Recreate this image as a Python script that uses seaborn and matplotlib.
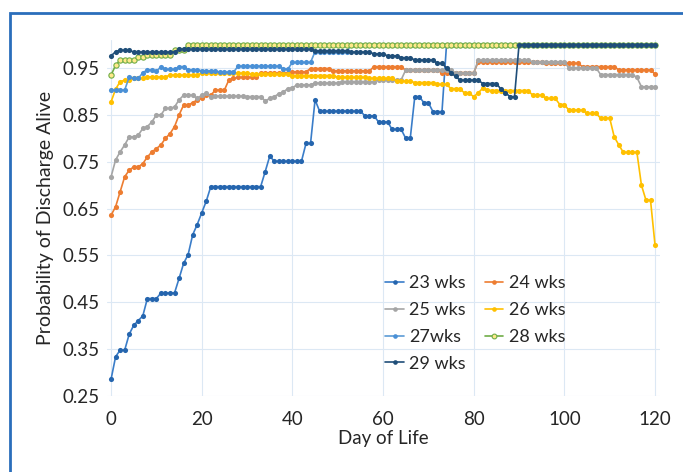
import pandas as pd
import matplotlib.pyplot as plt
from matplotlib.patches import Rectangle
import seaborn as sns

days = list(range(121))

wk23 = [0.286, 0.334, 0.348, 0.348, 0.382, 0.401, 0.411, 0.421, 0.458, 0.458, 0.458,
        0.470, 0.470, 0.470, 0.470, 0.501, 0.533, 0.552, 0.594, 0.616, 0.641, 0.666,
        0.697, 0.697, 0.697, 0.697, 0.697, 0.697, 0.697, 0.697, 0.697, 0.697, 0.697, 0.697,
        0.729, 0.762,
        0.751, 0.751, 0.751, 0.751, 0.751, 0.751, 0.751,
        0.789, 0.789, 0.882,
        0.858, 0.858, 0.858, 0.858, 0.858, 0.858, 0.858, 0.858, 0.858, 0.858,
        0.848, 0.848, 0.848, 0.835, 0.835, 0.835, 0.819, 0.819, 0.819,
        0.800, 0.800, 0.889, 0.889, 0.876, 0.876, 0.857, 0.857, 0.857,
        1.0, 1.0, 1.0, 1.0, 1.0, 1.0, 1.0, 1.0, 1.0, 1.0, 1.0, 1.0, 1.0, 1.0, 1.0, 1.0,
        1.0, 1.0, 1.0, 1.0, 1.0, 1.0, 1.0, 1.0, 1.0, 1.0, 1.0, 1.0, 1.0, 1.0, 1.0, 1.0,
        1.0, 1.0, 1.0, 1.0, 1.0, 1.0, 1.0, 1.0, 1.0, 1.0, 1.0, 1.0, 1.0, 1.0, 1.0]

wk24 = [0.636, 0.654, 0.686, 0.718, 0.732, 0.739, 0.739, 0.746, 0.760, 0.771, 0.778,
        0.786, 0.800, 0.810, 0.825, 0.850, 0.871, 0.871, 0.876, 0.882, 0.885, 0.892,
        0.892, 0.903, 0.903, 0.903, 0.925, 0.928,
        0.930, 0.930, 0.930, 0.930, 0.930,
        0.939, 0.939, 0.939, 0.939, 0.939, 0.939, 0.939,
        0.942, 0.942, 0.942, 0.942,
        0.949, 0.949, 0.949, 0.949, 0.949,
        0.944, 0.944, 0.944, 0.944, 0.944, 0.944, 0.944, 0.944, 0.944,
        0.953, 0.953, 0.953, 0.953, 0.953, 0.953, 0.953,
        0.945, 0.945, 0.945, 0.945, 0.945, 0.945, 0.945, 0.945,
        0.940, 0.940, 0.940, 0.940, 0.940, 0.940, 0.940, 0.940,
        0.963, 0.963, 0.963, 0.963, 0.963, 0.963, 0.963, 0.963, 0.963, 0.963, 0.963,
        0.963, 0.963, 0.963, 0.963,
        0.960, 0.960, 0.960, 0.960, 0.960, 0.960, 0.960, 0.960,
        0.953, 0.953, 0.953, 0.953, 0.953, 0.953, 0.953, 0.953,
        0.946, 0.946, 0.946, 0.946, 0.946, 0.946, 0.946, 0.946,
        0.937]

wk25 = [0.718, 0.754, 0.771, 0.786, 0.803, 0.803, 0.807, 0.821, 0.825, 0.835, 0.850,
        0.850, 0.864, 0.864, 0.867, 0.882, 0.892, 0.892, 0.892, 0.885, 0.892, 0.896,
        0.889, 0.890, 0.890, 0.890, 0.890, 0.890, 0.890, 0.890,
        0.889, 0.889, 0.889, 0.889,
        0.880, 0.885, 0.889, 0.895, 0.899, 0.906, 0.908,
        0.914, 0.914, 0.914, 0.914,
        0.918, 0.918, 0.918, 0.918, 0.918, 0.918,
        0.921, 0.921, 0.921, 0.921, 0.921, 0.921, 0.921, 0.921,
        0.925, 0.925, 0.925, 0.925, 0.925, 0.925,
        0.946, 0.946, 0.946, 0.946, 0.946, 0.946, 0.946, 0.946, 0.946, 0.946, 0.946,
        0.939, 0.939, 0.939, 0.939, 0.939,
        0.967, 0.967, 0.967, 0.967, 0.967, 0.967, 0.967, 0.967, 0.967, 0.967, 0.967, 0.967,
        0.963, 0.963, 0.963, 0.963, 0.963, 0.963, 0.963, 0.963,
        0.950, 0.950, 0.950, 0.950, 0.950, 0.950, 0.950,
        0.936, 0.936, 0.936, 0.936, 0.936, 0.936, 0.936, 0.936,
        0.930, 0.910, 0.910, 0.910, 0.910]

wk26 = [0.878, 0.905, 0.921, 0.924, 0.924, 0.928, 0.928, 0.928,
        0.931, 0.931, 0.931, 0.931, 0.931,
        0.935, 0.935, 0.935, 0.935, 0.935, 0.935, 0.935,
        0.939, 0.939, 0.939, 0.939, 0.939, 0.939, 0.939, 0.939, 0.939, 0.939, 0.939,
        0.937, 0.937, 0.937, 0.937, 0.937, 0.937, 0.937, 0.937, 0.937,
        0.934, 0.934, 0.934, 0.934, 0.934, 0.934, 0.934, 0.934, 0.934, 0.934,
        0.930, 0.930, 0.930, 0.930, 0.930, 0.930, 0.930,
        0.928, 0.928, 0.928, 0.928, 0.928, 0.928,
        0.922, 0.922, 0.922, 0.922,
        0.919, 0.919, 0.919, 0.919, 0.919,
        0.915, 0.915, 0.915, 0.906, 0.906, 0.906, 0.896, 0.896,
        0.889, 0.897, 0.907, 0.903,
        0.902, 0.902, 0.902, 0.902, 0.902, 0.902, 0.902, 0.902, 0.902,
        0.892, 0.892, 0.892, 0.885, 0.885, 0.885, 0.872, 0.872,
        0.860, 0.860, 0.860, 0.860, 0.853, 0.853, 0.853, 0.843, 0.843, 0.843,
        0.803, 0.786, 0.770, 0.770, 0.770, 0.770, 0.700, 0.668, 0.668, 0.572]

wk27 = [0.903, 0.903, 0.903, 0.903, 0.931, 0.928, 0.928, 0.940, 0.946, 0.946, 0.943,
        0.953, 0.947, 0.947, 0.947, 0.953, 0.953, 0.946, 0.946, 0.946,
        0.944, 0.944, 0.944, 0.944, 0.941, 0.941, 0.941, 0.941,
        0.954, 0.954, 0.954, 0.954, 0.954, 0.954, 0.954, 0.954, 0.954, 0.954,
        0.948, 0.948, 0.962, 0.962, 0.962, 0.962, 0.962,
        0.985, 0.985, 0.985, 0.985, 0.985, 0.985, 0.985, 0.985,
        1.0, 1.0, 1.0, 1.0, 1.0, 1.0, 1.0, 1.0, 1.0, 1.0, 1.0, 1.0, 1.0, 1.0, 1.0, 1.0,
        1.0, 1.0, 1.0, 1.0, 1.0, 1.0, 1.0, 1.0, 1.0, 1.0, 1.0, 1.0, 1.0, 1.0, 1.0, 1.0,
        1.0, 1.0, 1.0, 1.0, 1.0, 1.0, 1.0, 1.0, 1.0, 1.0, 1.0, 1.0, 1.0, 1.0, 1.0, 1.0,
        1.0, 1.0, 1.0, 1.0, 1.0, 1.0, 1.0, 1.0, 1.0, 1.0, 1.0, 1.0, 1.0, 1.0, 1.0, 1.0,
        1.0, 1.0, 1.0, 1.0]

wk28 = [0.935, 0.956, 0.967, 0.967, 0.967, 0.967, 0.974, 0.974,
        0.978, 0.978, 0.978, 0.978, 0.978, 0.978, 0.988, 0.988, 0.988,
        1.0, 1.0, 1.0, 1.0, 1.0, 1.0, 1.0, 1.0, 1.0, 1.0, 1.0, 1.0, 1.0, 1.0, 1.0, 1.0,
        1.0, 1.0, 1.0, 1.0, 1.0, 1.0, 1.0, 1.0, 1.0, 1.0, 1.0, 1.0, 1.0, 1.0, 1.0, 1.0,
        1.0, 1.0, 1.0, 1.0, 1.0, 1.0, 1.0, 1.0, 1.0, 1.0, 1.0, 1.0, 1.0, 1.0, 1.0, 1.0,
        1.0, 1.0, 1.0, 1.0, 1.0, 1.0, 1.0, 1.0, 1.0, 1.0, 1.0, 1.0, 1.0, 1.0, 1.0, 1.0,
        1.0, 1.0, 1.0, 1.0, 1.0, 1.0, 1.0, 1.0, 1.0, 1.0, 1.0, 1.0, 1.0, 1.0, 1.0, 1.0,
        1.0, 1.0, 1.0, 1.0, 1.0, 1.0, 1.0, 1.0, 1.0, 1.0, 1.0, 1.0, 1.0, 1.0, 1.0, 1.0,
        1.0, 1.0, 1.0, 1.0, 1.0, 1.0, 1.0, 1.0]

wk29 = [0.976, 0.985, 0.988, 0.988, 0.988,
        0.984, 0.984, 0.984, 0.984, 0.984, 0.984, 0.984, 0.984, 0.984, 0.984,
        0.990, 0.990, 0.990, 0.990, 0.990, 0.990, 0.990, 0.990, 0.990, 0.990,
        0.990, 0.990, 0.990, 0.990, 0.990, 0.990, 0.990, 0.990, 0.990, 0.990,
        0.990, 0.990, 0.990, 0.990, 0.990, 0.990, 0.990, 0.990, 0.990, 0.990,
        0.987, 0.987, 0.987, 0.987, 0.987, 0.987, 0.987, 0.987,
        0.984, 0.984, 0.984, 0.984, 0.984,
        0.980, 0.980, 0.980, 0.976, 0.976, 0.976, 0.972, 0.972, 0.972,
        0.967, 0.967, 0.967, 0.967, 0.967, 0.960, 0.960,
        0.950, 0.940, 0.932, 0.924, 0.924, 0.924, 0.924, 0.924,
        0.917, 0.917, 0.917, 0.917, 0.905, 0.897, 0.889, 0.889,
        1.0, 1.0, 1.0, 1.0, 1.0, 1.0, 1.0, 1.0, 1.0, 1.0, 1.0, 1.0, 1.0, 1.0, 1.0, 1.0,
        1.0, 1.0, 1.0, 1.0, 1.0, 1.0, 1.0, 1.0, 1.0, 1.0, 1.0, 1.0, 1.0, 1.0, 1.0]

labels = ['23 wks', '24 wks', '25 wks', '26 wks', '27wks', '28 wks', '29 wks']
series = [wk23, wk24, wk25, wk26, wk27, wk28, wk29]
colors = ['#3A7DC9', '#ED7D31', '#A5A5A5', '#FFC000', '#5B9BD5', '#70AD47', '#1F4E79']
marker_face = ['#2565AE', '#ED7D31', '#A5A5A5', '#FFC000', '#4A90D6', '#FFE98A', '#1F4E79']

df = pd.DataFrame({'day': days * len(labels),
                   'prob': [v for s in series for v in s],
                   'group': [lab for lab in labels for _ in days]})

sns.set_style('white')
plt.rcParams['font.family'] = ['Lato', 'DejaVu Sans']

fig = plt.figure(figsize=(6.83, 4.72), dpi=100)
ax = fig.add_axes([0.156, 0.161, 0.8097, 0.7544])

handles = {}
for lab, col, face in zip(labels, colors, marker_face):
    sub = df[df['group'] == lab]
    is28 = lab == '28 wks'
    sns.lineplot(data=sub, x='day', y='prob', ax=ax, color=col, linewidth=1.2,
                 marker='o', markersize=3.8 if is28 else 3.7,
                 markerfacecolor=face, markeredgecolor=col if is28 else face,
                 markeredgewidth=0.8 if is28 else 0, label=lab, legend=False)
    handles[lab] = ax.lines[-1]

ax.set_xlim(-1, 121)
ax.set_ylim(0.25, 1.01)
ax.set_xticks([0, 20, 40, 60, 80, 100, 120])
ax.set_yticks([0.25, 0.35, 0.45, 0.55, 0.65, 0.75, 0.85, 0.95])
ax.set_yticklabels(['0.25', '0.35', '0.45', '0.55', '0.65', '0.75', '0.85', '0.95'])
ax.grid(True, color='#DCE8F4', linewidth=0.8)
for sp in ax.spines.values():
    sp.set_visible(False)
ax.tick_params(axis='both', labelsize=13.5, colors='#262626', length=0)
ax.tick_params(axis='x', pad=11)
ax.tick_params(axis='y', pad=5)
ax.set_xlabel('Day of Life', fontsize=13.5, color='#262626', labelpad=1)
ax.set_ylabel('Probability of Discharge Alive', fontsize=14, color='#262626', labelpad=6)

order = ['23 wks', '25 wks', '27wks', '29 wks', '24 wks', '26 wks', '28 wks']
ax.legend([handles[k] for k in order], order, ncol=2, frameon=False, fontsize=13,
          loc='upper left', bbox_to_anchor=(0.475, 0.385), handlelength=1.0,
          handletextpad=0.3, labelspacing=0.6, columnspacing=1.1, markerscale=0.9)

# blue frame around the figure
fig.patches.append(Rectangle((10 / 683, -0.05), 1.0, 1 - 13 / 472 + 0.05,
                             transform=fig.transFigure, fill=False,
                             edgecolor='#2A6EBB', linewidth=2))

plt.savefig('out.png', dpi=100)
plt.close()
